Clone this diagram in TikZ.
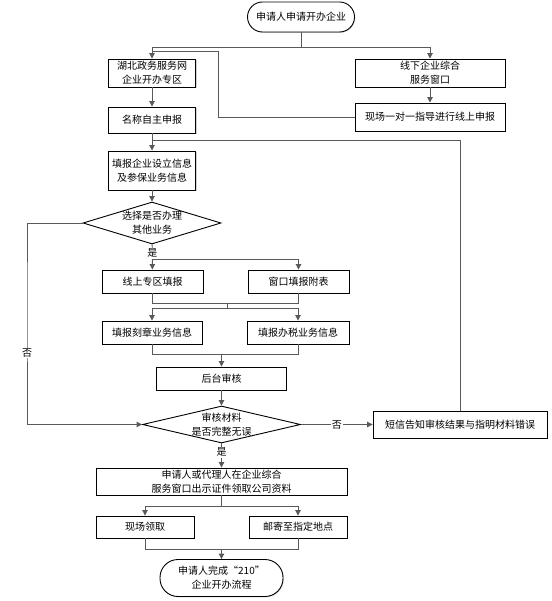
\documentclass[tikz,border=0pt]{standalone}
\usepackage{fontspec}
\setmainfont{Noto Sans CJK SC}
\usetikzlibrary{arrows.meta,shapes.geometric,shadows}

\begin{document}
\begin{tikzpicture}
  [x=1pt,y=-1pt,
   every node/.style={font=\fontsize{10}{14}\selectfont,align=center,inner sep=0pt},
   box/.style={rectangle,draw=black,line width=.9pt,fill=white,minimum height=23pt,
     drop shadow={shadow xshift=.8pt,shadow yshift=-.8pt,fill=black!35}},
   term/.style={box,rounded corners=15pt,minimum height=30pt},
   dec/.style={diamond,draw=black,line width=.9pt,fill=white},
   lbl/.style={fill=white,inner sep=1pt},
   conn/.style={draw=black!65,line width=.9pt},
   arr/.style={conn,-{Triangle[length=5.5pt,width=5.5pt]}}]
  \useasboundingbox (0,0) rectangle (551,601);

  \node[term,minimum width=107pt] (start) at (301,17) {申请人申请开办企业};
  \node[box,minimum width=87.5pt,minimum height=28pt] (web) at (152,73) {湖北政务服务网\\企业开办专区};
  \node[box,minimum width=150pt,minimum height=28pt] (win) at (430,73) {线下企业综合\\服务窗口};
  \node[box,minimum width=150pt,minimum height=28pt] (guide) at (430,117) {现场一对一指导进行线上申报};
  \node[box,minimum width=87.5pt,minimum height=26pt] (name) at (152,120) {名称自主申报};
  \node[box,minimum width=87.5pt,minimum height=39pt] (info) at (152,170.5) {填报企业设立信息\\及参保业务信息};
  \node[dec,minimum width=138pt,minimum height=42pt,label={center:选择是否办理\\其他业务}] (choose) at (152,223) {};
  \node[box,minimum width=101pt] (online) at (152.5,281.5) {线上专区填报};
  \node[box,minimum width=101pt] (counter) at (298.5,281.5) {窗口填报附表};
  \node[box,minimum width=100pt] (seal) at (152,332.5) {填报刻章业务信息};
  \node[box,minimum width=102pt] (tax) at (298,332.5) {填报办税业务信息};
  \node[box,minimum width=130pt] (audit) at (221.5,378.5) {后台审核};
  \node[dec,minimum width=158pt,minimum height=37pt,label={center:审核材料\\是否完整无误}] (check) at (221.5,424.5) {};
  \node[box,minimum width=174pt,minimum height=27pt] (sms) at (460,424.5) {短信告知审核结果与指明材料错误};
  \node[box,minimum width=251pt,minimum height=27pt] (pick) at (221.5,481.5) {申请人或代理人在企业综合\\服务窗口出示证件领取公司资料};
  \node[box,minimum width=98pt,minimum height=22pt] (site) at (145,527) {现场领取};
  \node[box,minimum width=98pt,minimum height=22pt] (mail) at (298,527) {邮寄至指定地点};
  \node[term,minimum width=123pt,minimum height=37pt,rounded corners=18pt] (done) at (221.5,578) {申请人完成“210”\\企业开办流程};

  \coordinate (s1) at (301,47);
  \coordinate (r1) at (218,51);
  \coordinate (fb) at (152,140);
  \coordinate (s2) at (152,259);
  \coordinate (m1) at (227,303);
  \coordinate (s3) at (227,308.5);
  \coordinate (m2) at (221.5,354.5);
  \coordinate (lx) at (27,300);
  \coordinate (s4) at (221.5,506);
  \coordinate (m3) at (221.5,549);

  \draw[conn] (start) -- (s1);
  \draw[arr] (s1) -| (web);
  \draw[arr] (s1) -| (win);
  \draw[conn] (guide) -| (r1) -- (r1 -| web);

  \foreach \from/\to in {win/guide, web/name, name/info, info/choose, audit/check}
    \draw[arr] (\from) -- (\to);

  \draw[arr] (choose) -- node[lbl,pos=.35]{是} (online);
  \draw[arr] (s2) -| (counter);
  \draw[conn] (online) |- (m1);
  \draw[conn] (counter) |- (m1);
  \draw[conn] (m1) -- (s3);
  \draw[arr] (s3) -| (seal);
  \draw[arr] (s3) -| (tax);
  \draw[conn] (seal) |- (m2);
  \draw[conn] (tax) |- (m2);
  \draw[arr] (m2) -- (audit);

  \draw[arr] (choose) -| (lx) |- (check);
  \node[lbl] (no1) at (27,353) {否};
  \draw[arr] (check) -- node[lbl]{否} (sms);
  \draw[conn] (sms) |- (fb);

  \draw[arr] (check) -- node[lbl,pos=.36]{是} (pick);
  \draw[conn] (pick) -- (s4);
  \draw[arr] (s4) -| (site);
  \draw[arr] (s4) -| (mail);
  \draw[conn] (site) |- (m3);
  \draw[conn] (mail) |- (m3);
  \draw[arr] (m3) -- (done);
\end{tikzpicture}
\end{document}
